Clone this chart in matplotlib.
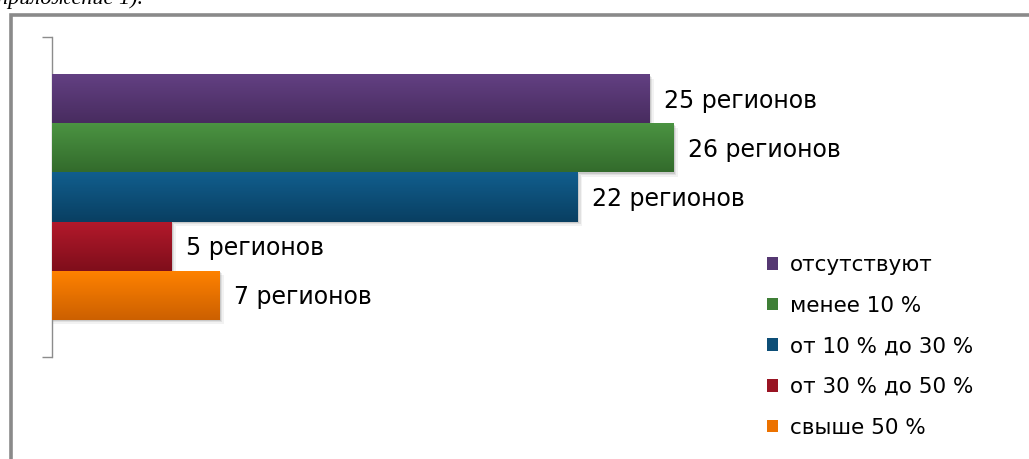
import matplotlib
matplotlib.use("Agg")
import matplotlib.pyplot as plt
import numpy as np
from matplotlib.patches import Rectangle, Patch
from matplotlib.colors import LinearSegmentedColormap

# ---- data ----
categories = ["отсутствуют", "менее 10 %", "от 10 % до 30 %", "от 30 % до 50 %", "свыше 50 %"]
values = [25, 26, 22, 5, 7]
value_labels = ["25 регионов", "26 регионов", "22 регионов", "5 регионов", "7 регионов"]
top_colors = ["#634083", "#4b9442", "#115e8d", "#b3192b", "#ff8200"]
bottom_colors = ["#482c5f", "#336b2c", "#093f62", "#7f0e1b", "#cc6000"]
legend_colors = ["#553872", "#3f7f37", "#0d4e77", "#991423", "#ec7200"]
caption = "приложение 1)."

W, H = 1029, 459
fig = plt.figure(figsize=(W / 100, H / 100), dpi=100)
fig.patch.set_facecolor("white")

font = ["DejaVu Sans"]

# outer gray frame (extends past the right/bottom edges)
fig.add_artist(Rectangle((10.5 / W, -0.2), 1.2, (H - 14.5) / H + 0.2,
                         transform=fig.transFigure, fill=False,
                         edgecolor="#8a8a8a", linewidth=2.6))
# caption cut by the top edge, as in the source
fig.text(143 / W, (H - 4) / H, caption, ha="right", va="baseline",
         fontsize=16, style="italic", family=["Liberation Serif", "DejaVu Serif"])

ax = fig.add_axes([52 / W, 102 / H, (30 * 23.9) / W, 320 / H])
n = len(values)
ypos = np.arange(n)[::-1].astype(float)
bars = ax.barh(ypos, values, height=1.0, color="none", zorder=3)

ax.set_xlim(0, 30)
ylo, yhi = -0.5 - 0.765, n - 0.5 + 0.765
ax.set_ylim(ylo, yhi)

for i, b in enumerate(bars):
    x0, y0 = b.get_x(), b.get_y()
    w, h = b.get_width(), b.get_height()
    # soft shadow
    for k, a in enumerate([0.10, 0.07, 0.05]):
        dx = (k + 1) * 0.06
        dy = (k + 1) * 0.03
        ax.add_patch(Rectangle((x0, y0 - dy), w + dx, h, facecolor="black",
                               alpha=a, edgecolor="none", zorder=1))
    cmap = LinearSegmentedColormap.from_list("g", [bottom_colors[i], top_colors[i]])
    grad = np.linspace(0, 1, 64).reshape(-1, 1)
    im = ax.imshow(grad, aspect="auto", cmap=cmap, origin="lower",
                   extent=(x0, x0 + w, y0, y0 + h), zorder=4, interpolation="bilinear")
    clip = Rectangle((x0, y0), w, h, transform=ax.transData)
    im.set_clip_path(clip)
    ax.text(x0 + w + 0.6, y0 + h / 2 - 0.04, value_labels[i], va="center", ha="left",
            fontsize=17, family=font, color="black", clip_on=False, zorder=5)

for s in ["top", "right", "bottom"]:
    ax.spines[s].set_visible(False)
ax.spines["left"].set_color("#8c8c8c")
ax.spines["left"].set_linewidth(1.0)
ax.set_xticks([])
ax.set_yticks([ylo, yhi])
ax.set_yticklabels([])
ax.tick_params(axis="y", length=7, color="#8c8c8c", width=1.0)
ax.set_facecolor("none")

handles = [Patch(facecolor=c, edgecolor="none") for c in legend_colors]
leg = fig.legend(handles, categories, loc="upper left",
                 bbox_to_anchor=(767 / W, (H - 255) / H),
                 frameon=False, prop={"family": font, "size": 15.5},
                 handlelength=0.52, handleheight=0.52, handletextpad=0.55,
                 labelspacing=0.96, borderpad=0, borderaxespad=0)

fig.savefig("out.png", dpi=100, facecolor="white")
